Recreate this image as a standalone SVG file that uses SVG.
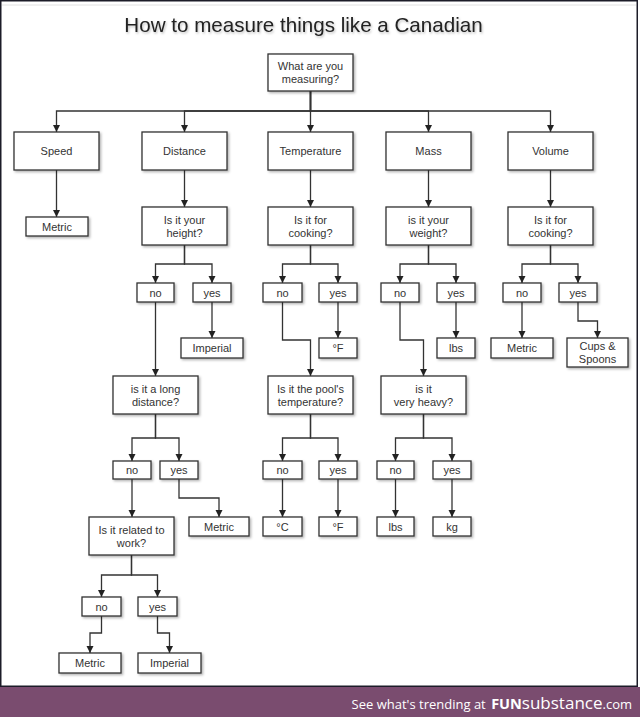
<svg xmlns="http://www.w3.org/2000/svg" width="640" height="717" viewBox="0 0 640 717">
<defs>
<style>
.b{fill:#fff;stroke:#333;stroke-width:1.3;filter:url(#sh)}
.t{font-family:"Liberation Sans",Arial,sans-serif;font-size:11px;fill:#333;text-anchor:middle}
.c{fill:none;stroke:#333;stroke-width:1.3;marker-end:url(#ah)}
.f{font-family:"Open Sans","Noto Sans",sans-serif;fill:#fff}
</style>
<filter id="sh" x="-10%" y="-10%" width="130%" height="140%">
<feDropShadow dx="1.5" dy="1.5" stdDeviation="1" flood-color="#000" flood-opacity="0.3"/>
</filter>
<filter id="tsh" x="-5%" y="-20%" width="110%" height="150%">
<feDropShadow dx="1" dy="1.5" stdDeviation="1" flood-color="#000" flood-opacity="0.25"/>
</filter>
<marker id="ah" markerUnits="userSpaceOnUse" markerWidth="8" markerHeight="8" viewBox="0 0 8 8" refX="7" refY="3.5" orient="auto">
<path d="M0,0 L7,3.5 L0,7 z" fill="#222"/>
</marker>
</defs>
<rect x="0" y="0" width="640" height="717" fill="#fff"/>
<rect x="0.75" y="0.75" width="636.5" height="685.5" fill="#fff" stroke="#1c1c28" stroke-width="1.5"/>
<line x1="2" y1="5" x2="636" y2="5" stroke="#e2e2e2" stroke-width="1"/>
<rect x="0" y="687" width="640" height="30" fill="#7a4c6f"/>
<text x="632" y="709" class="f" text-anchor="end"><tspan font-size="13">See what's trending at </tspan><tspan font-size="14.5" font-weight="bold" dx="2">FUN</tspan><tspan font-size="17">substance</tspan><tspan font-size="13">.com</tspan></text>

<text id="title" x="303.5" y="32" font-family="Liberation Sans,Arial,sans-serif" font-size="20.6" fill="#222" text-anchor="middle" filter="url(#tsh)">How to measure things like a Canadian</text>

<g id="connectors">
<path class="c" d="M310.5,91 V111 H56.5 V132"/>
<path class="c" d="M310.5,91 V111 H184.5 V132"/>
<path class="c" d="M310.5,91 V132"/>
<path class="c" d="M310.5,91 V111 H428.5 V132"/>
<path class="c" d="M310.5,91 V111 H550.5 V132"/>
<path class="c" d="M56.5,170 V217"/>
<path class="c" d="M184.5,170 V207"/>
<path class="c" d="M310.5,170 V207"/>
<path class="c" d="M428.5,170 V207"/>
<path class="c" d="M550.5,170 V207"/>
<path class="c" d="M184.5,245 V264 H155.5 V283"/>
<path class="c" d="M184.5,245 V264 H212 V283"/>
<path class="c" d="M212,302 V338"/>
<path class="c" d="M155.5,302 V376"/>
<path class="c" d="M310.5,245 V264 H282.5 V283"/>
<path class="c" d="M310.5,245 V264 H338 V283"/>
<path class="c" d="M338,302 V338"/>
<path class="c" d="M282.5,302 V340 H310.5 V376"/>
<path class="c" d="M428.5,245 V264 H400 V283"/>
<path class="c" d="M428.5,245 V264 H456 V283"/>
<path class="c" d="M456,302 V338"/>
<path class="c" d="M400,302 V340 H423.5 V376"/>
<path class="c" d="M550.5,245 V264 H522 V283"/>
<path class="c" d="M550.5,245 V264 H578 V283"/>
<path class="c" d="M522,302 V338"/>
<path class="c" d="M578,302 V321 H597.5 V338"/>
<path class="c" d="M155.5,414 V438 H132 V461"/>
<path class="c" d="M155.5,414 V438 H179 V461"/>
<path class="c" d="M132,479 V517"/>
<path class="c" d="M179,479 V498 H219 V517"/>
<path class="c" d="M310.5,414 V438 H282.5 V461"/>
<path class="c" d="M310.5,414 V438 H338 V461"/>
<path class="c" d="M282.5,479 V517"/>
<path class="c" d="M338,479 V517"/>
<path class="c" d="M423.5,414 V438 H395.5 V461"/>
<path class="c" d="M423.5,414 V438 H452 V461"/>
<path class="c" d="M395.5,479 V517"/>
<path class="c" d="M452,479 V517"/>
<path class="c" d="M131.5,555 V575 H101.5 V597"/>
<path class="c" d="M131.5,555 V575 H157.5 V597"/>
<path class="c" d="M101.5,616 V633 H90 V653"/>
<path class="c" d="M157.5,616 V633 H169.5 V653"/>
</g>

<g id="root"><rect class="b" x="268" y="54" width="85" height="37"/><text class="t" x="310.5" y="70">What are you</text><text class="t" x="310.5" y="83">measuring?</text></g>

<g id="speed"><rect class="b" x="14" y="132" width="85" height="38"/><text class="t" x="56.5" y="155">Speed</text></g>
<g id="distance"><rect class="b" x="142" y="132" width="85" height="38"/><text class="t" x="184.5" y="155">Distance</text></g>
<g id="temperature"><rect class="b" x="268" y="132" width="85" height="38"/><text class="t" x="310.5" y="155">Temperature</text></g>
<g id="mass"><rect class="b" x="386" y="132" width="85" height="38"/><text class="t" x="428.5" y="155">Mass</text></g>
<g id="volume"><rect class="b" x="508" y="132" width="85" height="38"/><text class="t" x="550.5" y="155">Volume</text></g>

<g id="speed-metric"><rect class="b" x="26" y="217" width="62" height="19"/><text class="t" x="57" y="230.5">Metric</text></g>
<g id="q-height"><rect class="b" x="142" y="207" width="85" height="38"/><text class="t" x="184.5" y="223.5">Is it your</text><text class="t" x="184.5" y="236.5">height?</text></g>
<g id="q-temp-cooking"><rect class="b" x="268" y="207" width="85" height="38"/><text class="t" x="310.5" y="223.5">Is it for</text><text class="t" x="310.5" y="236.5">cooking?</text></g>
<g id="q-weight"><rect class="b" x="386" y="207" width="85" height="38"/><text class="t" x="428.5" y="223.5">is it your</text><text class="t" x="428.5" y="236.5">weight?</text></g>
<g id="q-vol-cooking"><rect class="b" x="508" y="207" width="85" height="38"/><text class="t" x="550.5" y="223.5">Is it for</text><text class="t" x="550.5" y="236.5">cooking?</text></g>

<g id="height-no"><rect class="b" x="137" y="283" width="37" height="19"/><text class="t" x="155.5" y="296.5">no</text></g>
<g id="height-yes"><rect class="b" x="193" y="283" width="38" height="19"/><text class="t" x="212" y="296.5">yes</text></g>
<g id="tcook-no"><rect class="b" x="263" y="283" width="39" height="19"/><text class="t" x="282.5" y="296.5">no</text></g>
<g id="tcook-yes"><rect class="b" x="319" y="283" width="38" height="19"/><text class="t" x="338" y="296.5">yes</text></g>
<g id="weight-no"><rect class="b" x="381" y="283" width="38" height="19"/><text class="t" x="400" y="296.5">no</text></g>
<g id="weight-yes"><rect class="b" x="437" y="283" width="38" height="19"/><text class="t" x="456" y="296.5">yes</text></g>
<g id="vcook-no"><rect class="b" x="503" y="283" width="38" height="19"/><text class="t" x="522" y="296.5">no</text></g>
<g id="vcook-yes"><rect class="b" x="559" y="283" width="38" height="19"/><text class="t" x="578" y="296.5">yes</text></g>

<g id="height-imperial"><rect class="b" x="181" y="338" width="62" height="20"/><text class="t" x="212" y="352">Imperial</text></g>
<g id="tcook-f"><rect class="b" x="319" y="338" width="38" height="20"/><text class="t" x="338" y="352">°F</text></g>
<g id="weight-lbs"><rect class="b" x="437" y="338" width="38" height="20"/><text class="t" x="456" y="352">lbs</text></g>
<g id="vcook-metric"><rect class="b" x="491" y="338" width="62" height="20"/><text class="t" x="522" y="352">Metric</text></g>
<g id="vcook-cups"><rect class="b" x="567" y="338" width="61" height="29"/><text class="t" x="597.5" y="350">Cups &amp;</text><text class="t" x="597.5" y="363">Spoons</text></g>

<g id="q-long"><rect class="b" x="113" y="376" width="85" height="38"/><text class="t" x="155.5" y="392.5">is it a long</text><text class="t" x="155.5" y="405.5">distance?</text></g>
<g id="q-pool"><rect class="b" x="268" y="376" width="85" height="38"/><text class="t" x="310.5" y="392.5">Is it the pool's</text><text class="t" x="310.5" y="405.5">temperature?</text></g>
<g id="q-heavy"><rect class="b" x="381" y="376" width="85" height="38"/><text class="t" x="423.5" y="392.5">is it</text><text class="t" x="423.5" y="405.5">very heavy?</text></g>

<g id="long-no"><rect class="b" x="113" y="461" width="38" height="18"/><text class="t" x="132" y="474">no</text></g>
<g id="long-yes"><rect class="b" x="160" y="461" width="38" height="18"/><text class="t" x="179" y="474">yes</text></g>
<g id="pool-no"><rect class="b" x="263" y="461" width="39" height="18"/><text class="t" x="282.5" y="474">no</text></g>
<g id="pool-yes"><rect class="b" x="319" y="461" width="38" height="18"/><text class="t" x="338" y="474">yes</text></g>
<g id="heavy-no"><rect class="b" x="377" y="461" width="37" height="18"/><text class="t" x="395.5" y="474">no</text></g>
<g id="heavy-yes"><rect class="b" x="433" y="461" width="38" height="18"/><text class="t" x="452" y="474">yes</text></g>

<g id="long-metric"><rect class="b" x="189" y="517" width="60" height="19"/><text class="t" x="219" y="530.5">Metric</text></g>
<g id="pool-c"><rect class="b" x="263" y="517" width="39" height="19"/><text class="t" x="282.5" y="530.5">°C</text></g>
<g id="pool-f"><rect class="b" x="319" y="517" width="38" height="19"/><text class="t" x="338" y="530.5">°F</text></g>
<g id="heavy-lbs"><rect class="b" x="377" y="517" width="37" height="19"/><text class="t" x="395.5" y="530.5">lbs</text></g>
<g id="heavy-kg"><rect class="b" x="433" y="517" width="38" height="19"/><text class="t" x="452" y="530.5">kg</text></g>
<g id="q-work"><rect class="b" x="89" y="517" width="85" height="38"/><text class="t" x="131.5" y="533.5">Is it related to</text><text class="t" x="131.5" y="546.5">work?</text></g>

<g id="work-no"><rect class="b" x="82" y="597" width="39" height="19"/><text class="t" x="101.5" y="610.5">no</text></g>
<g id="work-yes"><rect class="b" x="138" y="597" width="39" height="19"/><text class="t" x="157.5" y="610.5">yes</text></g>
<g id="work-metric"><rect class="b" x="59" y="653" width="62" height="20"/><text class="t" x="90" y="667">Metric</text></g>
<g id="work-imperial"><rect class="b" x="138" y="653" width="63" height="20"/><text class="t" x="169.5" y="667">Imperial</text></g>
</svg>
